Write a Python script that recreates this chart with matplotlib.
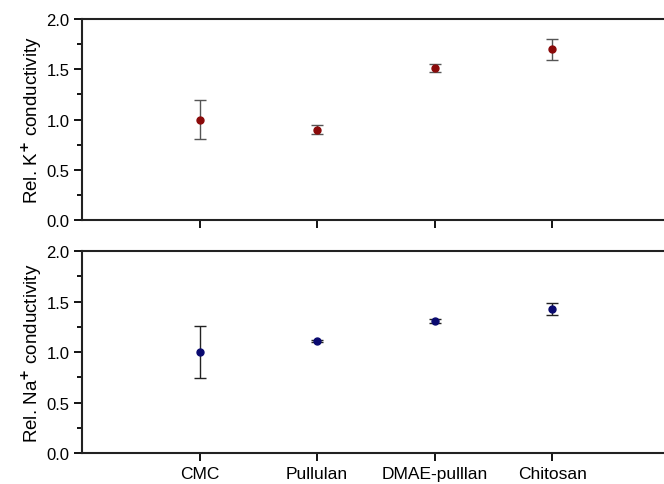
import matplotlib.pyplot as plt
from matplotlib.ticker import MultipleLocator

plt.rcParams['font.family'] = ['Liberation Sans', 'DejaVu Sans']

samples = ['CMC', 'Pullulan', 'DMAE-pulllan', 'Chitosan']
k_rel = [1.00, 0.90, 1.51, 1.70]
k_err = [0.19, 0.045, 0.04, 0.105]
na_rel = [1.00, 1.11, 1.31, 1.43]
na_err = [0.257, 0.01, 0.02, 0.06]

x = [1, 2, 3, 4]

fig = plt.figure(figsize=(6.64, 4.85), dpi=100)
ax1 = fig.add_axes([0.1235, 0.5443, 0.885, 0.4144])
ax2 = fig.add_axes([0.1235, 0.0639, 0.885, 0.4165])

ax1.errorbar(x, k_rel, yerr=k_err, fmt='o', color='#8b0a0a', ms=5,
             ecolor='#555555', elinewidth=1, capsize=4, capthick=1)
ax2.errorbar(x, na_rel, yerr=na_err, fmt='o', color='#0a0a70', ms=5,
             ecolor='#222222', elinewidth=1, capsize=4, capthick=1)

for ax in (ax1, ax2):
    ax.set_xlim(0, 5)
    ax.set_ylim(0, 2)
    ax.set_xticks(x)
    ax.yaxis.set_major_locator(MultipleLocator(0.5))
    ax.yaxis.set_minor_locator(MultipleLocator(0.25))
    ax.yaxis.set_major_formatter(plt.FormatStrFormatter('%.1f'))
    ax.tick_params(axis='both', which='major', direction='out', length=6, width=1.3)
    ax.tick_params(axis='y', which='major', labelsize=12, pad=3)
    ax.tick_params(axis='x', which='major', labelsize=12.5, pad=3.5)
    ax.tick_params(axis='y', which='minor', direction='out', length=3.5, width=1.3)
    ax.tick_params(top=False, right=False)
    for s in ax.spines.values():
        s.set_linewidth(1.5)
        s.set_color('#222222')

ax1.set_xticklabels([])
ax2.set_xticklabels(samples)

ax1.set_ylabel('Rel. K$^{\\mathbf{+}}$ conductivity', fontsize=13.5, labelpad=2)
ax2.set_ylabel('Rel. Na$^{\\mathbf{+}}$ conductivity', fontsize=13.5, labelpad=2)

fig.savefig('out.png', dpi=100)
